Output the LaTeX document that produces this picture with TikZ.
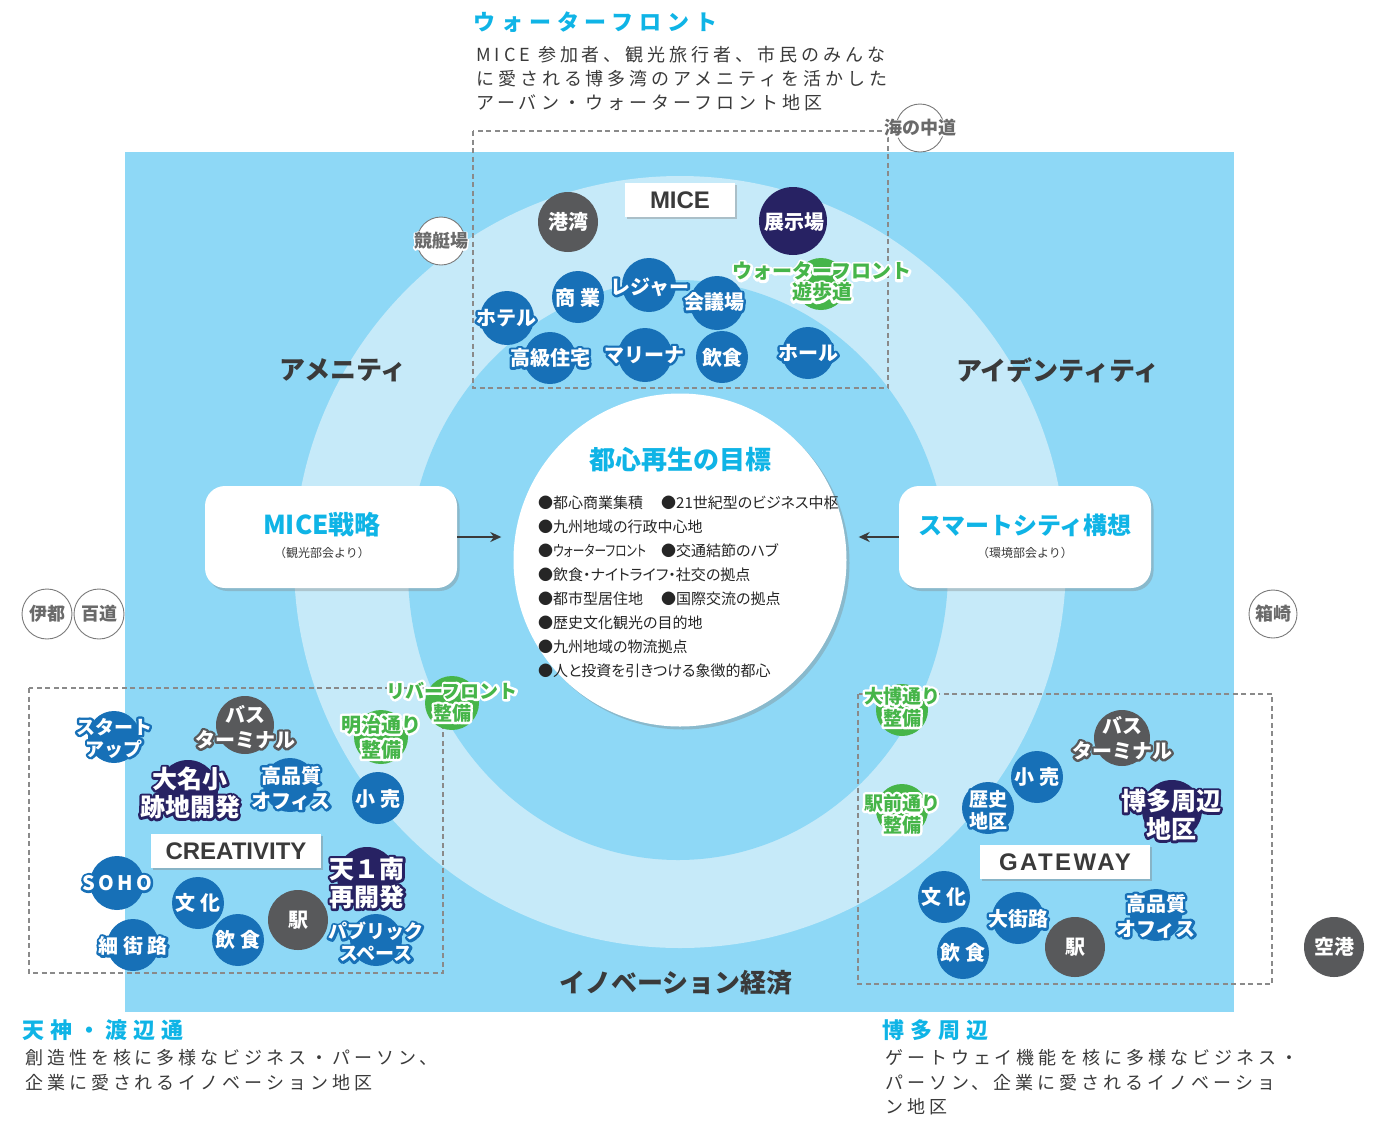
\documentclass[tikz,border=0pt]{standalone}
\usepackage{fontspec}
\setmainfont{Noto Sans CJK JP}
\newfontfamily\latf{Liberation Sans}
\newfontfamily\spf[LetterSpace=22]{Noto Sans CJK JP}
\newfontfamily\tspf[LetterSpace=27]{Noto Sans CJK JP}
\newfontfamily\paltf[RawFeature=+palt]{Noto Sans CJK JP}
\usetikzlibrary{shadows,arrows.meta}
\definecolor{bgblue}{HTML}{8ED8F6}
\definecolor{ringlight}{HTML}{C6EAF9}
\definecolor{cyanT}{HTML}{0FB4E6}
\definecolor{bubblue}{HTML}{1770B7}
\definecolor{bubnavy}{HTML}{272263}
\definecolor{bubgray}{HTML}{58595B}
\definecolor{bubgreen}{HTML}{46B549}
\definecolor{txtgray}{HTML}{3A3A3A}
\definecolor{dashgray}{HTML}{8A8A8A}
\definecolor{placegray}{HTML}{7A7A7A}
\definecolor{placetext}{HTML}{6A6A6A}
% outlined text: stroked copy underneath, filled copy on top
\newcommand\cc{white}
\newcommand\olw{4.8}
\newcommand\ct[1]{\leavevmode\rlap{\color{\cc}\special{pdf:literal direct 1 Tr \olw\space w 1 j}#1\special{pdf:literal direct 0 Tr}}#1}
\newcommand\fa{\fontsize{20}{25}\selectfont\bfseries}
\newcommand\fg{\fontsize{19}{22}\selectfont\bfseries}
\newcommand\fgg{\fontsize{20}{21}\selectfont\bfseries}
\newcommand\fn{\fontsize{25}{28}\selectfont\bfseries}
% name, (pos), radius, fill, font, textcolor, outlinecolor, (textpos), text
\newcommand\bubble[9]{%
  \node[circle,fill=#4,inner sep=0pt,minimum size=2*#3] (#1) at #2 {};
  \gdef\cc{#7}%
  \node[align=center,inner sep=0pt,text=#6,font=#5] (#1-t) at #8 {#9};
}
% name, (pos), radius, text
\newcommand\place[4]{%
  \node[circle,fill=white,draw=placegray,line width=0.9pt,inner sep=0pt,minimum size=2*#3] (#1) at #2 {};
  \gdef\cc{white}\gdef\olw{2.6}%
  \node[inner sep=0pt,text=placetext,font=\fontsize{18}{20}\selectfont\bfseries] (#1-t) at (#1) {\ct{#4}};
}
\tikzset{
  dashbox/.style={draw=dashgray,line width=2.2pt,dash pattern=on 5pt off 3.5pt},
  rbox/.style={fill=white,rounded corners=20pt,minimum width=252,minimum height=102,inner sep=0pt,
    drop shadow={shadow xshift=2.5pt,shadow yshift=-3pt,opacity=0.35}},
  lbl/.style={fill=white,inner sep=0pt,text=txtgray,font=\latf\bfseries\fontsize{24}{26}\selectfont,
    drop shadow={shadow xshift=2pt,shadow yshift=-2pt,opacity=0.4}},
  arr/.style={draw=txtgray,line width=1.8pt,-{Stealth[length=11pt,width=10pt]},shorten >=12pt},
  bigl/.style={text=txtgray,font=\fontsize{26}{28}\selectfont\bfseries,inner sep=0pt},
  listl/.style={anchor=west,inner sep=0pt,text=black!85,font=\paltf\fontsize{15}{17}\selectfont},
  head/.style={anchor=west,inner sep=0pt,text=cyanT,font=\tspf\bfseries\fontsize{22}{24}\selectfont},
  desc/.style={anchor=west,inner sep=0pt,text=txtgray,font=\spf\fontsize{18}{20}\selectfont},
}
\begin{document}
\begin{tikzpicture}[x=1pt,y=-1pt]
\useasboundingbox (0,0) rectangle (1393,1120);
% background
\fill[bgblue] (125,152) rectangle (1234,1012);
\fill[ringlight] (680,562) circle [radius=386];
\fill[bgblue] (678,570) ellipse [x radius=270, y radius=290];
% dashed zones
\draw[dashbox] (473,131) rectangle (888,388);
\draw[dashbox] (29,688) rectangle (443,973);
\draw[dashbox] (858,694) rectangle (1272,984);
% centre
\node[circle,fill=white,minimum size=333,inner sep=0pt,
  drop shadow={shadow xshift=3pt,shadow yshift=-3pt,opacity=0.35}] (goal) at (680,560) {};
\node[inner sep=0pt,text=cyanT,font=\fontsize{26}{28}\selectfont\bfseries] (goal-t) at (680,460) {都心再生の目標};
\node[listl] (g1a) at (538,503) {●都心商業集積};
\node[listl] (g1b) at (661,503) {●21世紀型のビジネス中枢};
\node[listl] (g2) at (538,527) {●九州地域の行政中心地};
\node[listl] (g3a) at (538,551) {●\scalebox{0.78}[1]{ウォーターフロント}};
\node[listl] (g3b) at (661,551) {●交通結節のハブ};
\node[listl] (g4) at (538,575) {●飲食・ナイトライフ・社交の拠点};
\node[listl] (g5a) at (538,599) {●都市型居住地};
\node[listl] (g5b) at (661,599) {●国際交流の拠点};
\node[listl] (g6) at (538,623) {●歴史文化観光の目的地};
\node[listl] (g7) at (538,647) {●九州地域の物流拠点};
\node[listl] (g8) at (538,671) {●人と投資を引きつける象徴的都心};
% side boxes
\node[rbox] (micebox) at (331,537) {};
\node[inner sep=0pt,text=cyanT,font=\fontsize{26}{28}\selectfont\bfseries] (micebox-t) at (322,525) {MICE戦略};
\node[inner sep=0pt,text=txtgray,font=\fontsize{12}{14}\selectfont] (micebox-s) at (322,553) {（観光部会より）};
\node[rbox] (smartbox) at (1025,537) {};
\node[inner sep=0pt,text=cyanT,font=\fontsize{24}{26}\selectfont\bfseries] (smartbox-t) at (1025,525) {スマートシティ構想};
\node[inner sep=0pt,text=txtgray,font=\fontsize{12}{14}\selectfont] (smartbox-s) at (1025,553) {（環境部会より）};
\draw[arr] (micebox.east) -- (micebox.east -| goal.west);
\draw[arr] (smartbox.west) -- (smartbox.west -| goal.east);
% ring labels
\node[bigl] (amenity) at (343,370) {アメニティ};
\node[bigl] (identity) at (1058,370) {アイデンティティ};
\node[bigl] (innov) at (676,983) {イノベーション経済};
% ===== top cluster
\node[lbl,minimum width=110,minimum height=34] (micelbl) at (680,200) {MICE};
\bubble{kowan}{(568,222)}{30}{bubgray}{\fa}{white}{bubgray}{(568,222)}{\ct{港湾}}
\bubble{tenji}{(793,221)}{34}{bubnavy}{\fa}{white}{bubnavy}{(794,222)}{\ct{展示場}}
\bubble{wfwalk}{(821,284)}{26}{bubgreen}{\fgg}{bubgreen}{white}{(822,282)}{\ct{ウォーターフロント}\\\ct{遊歩道}}
\bubble{shogyo}{(578,297)}{26}{bubblue}{\fa}{white}{bubblue}{(578,298)}{\ct{商 業}}
\bubble{leisure}{(649,285)}{27}{bubblue}{\fa}{white}{bubblue}{(650,287)}{\ct{レジャー}}
\bubble{kaigi}{(717,303)}{27}{bubblue}{\fa}{white}{bubblue}{(714,302)}{\ct{会議場}}
\bubble{hotel}{(507,318)}{27}{bubblue}{\fa}{white}{bubblue}{(506,318)}{\ct{ホテル}}
\bubble{jutaku}{(550,358)}{26}{bubblue}{\fa}{white}{bubblue}{(550,358)}{\ct{高級住宅}}
\bubble{marina}{(645,355)}{27}{bubblue}{\fa}{white}{bubblue}{(644,355)}{\ct{マリーナ}}
\bubble{inshokuA}{(722,357)}{26}{bubblue}{\fa}{white}{bubblue}{(722,358)}{\ct{飲食}}
\bubble{hall}{(808,353)}{26}{bubblue}{\fa}{white}{bubblue}{(808,353)}{\ct{ホール}}
% ===== bottom-left cluster
\node[lbl,minimum width=170,minimum height=34] (crelbl) at (236,851) {CREATIVITY};
\bubble{startup}{(114,737)}{26}{bubblue}{\fg}{white}{bubblue}{(114,738)}{\ct{スタート}\\\ct{アップ}}
\bubble{busA}{(245,725)}{29}{bubgray}{\fa}{white}{bubgray}{(245,727)}{\ct{バス}\\\ct{ターミナル}}
\bubble{daimyo}{(188,790)}{30}{bubnavy}{\fn}{white}{bubnavy}{(190,793)}{\ct{大名小}\\\ct{跡地開発}}
\bubble{officeA}{(290,785)}{27}{bubblue}{\fa}{white}{bubblue}{(291,788)}{\ct{高品質}\\\ct{オフィス}}
\bubble{meiji}{(381,737)}{27}{bubgreen}{\fa}{bubgreen}{white}{(381,737)}{\ct{明治通り}\\\ct{整備}}
\bubble{river}{(452,703)}{27}{bubgreen}{\fg}{bubgreen}{white}{(452,702)}{\ct{リバーフロント}\\\ct{整備}}
\bubble{kouriA}{(378,798)}{26}{bubblue}{\fa}{white}{bubblue}{(378,799)}{\ct{小 売}}
\bubble{soho}{(117,883)}{27}{bubblue}{\fa}{white}{bubblue}{(117,883)}{\ct{S\,O\,H\,O}}
\bubble{bunkaA}{(198,903)}{26}{bubblue}{\fa}{white}{bubblue}{(198,903)}{\ct{文 化}}
\bubble{tenichi}{(367,877)}{30}{bubnavy}{\fn}{white}{bubnavy}{(367,883)}{\ct{天１南}\\\ct{再開発}}
\bubble{ekiA}{(298,920)}{30}{bubgray}{\fa}{white}{bubgray}{(298,920)}{\ct{駅}}
\bubble{saigairo}{(133,945)}{26}{bubblue}{\fa}{white}{bubblue}{(133,946)}{\ct{細 街 路}}
\bubble{inshokuB}{(238,940)}{26}{bubblue}{\fa}{white}{bubblue}{(238,940)}{\ct{飲 食}}
\bubble{public}{(376,940)}{26}{bubblue}{\fg}{white}{bubblue}{(376,942)}{\ct{パブリック}\\\ct{スペース}}
% ===== bottom-right cluster
\node[lbl,minimum width=170,minimum height=34,font=\latf\bfseries\fontsize{24}{26}\selectfont\addfontfeature{LetterSpace=10}] (gatelbl) at (1065,862) {GATEWAY};
\bubble{daihaku}{(902,710)}{26}{bubgreen}{\fg}{bubgreen}{white}{(902,707)}{\ct{大博通り}\\\ct{整備}}
\bubble{busB}{(1122,738)}{28}{bubgray}{\fa}{white}{bubgray}{(1122,738)}{\ct{バス}\\\ct{ターミナル}}
\bubble{kouriB}{(1037,777)}{26}{bubblue}{\fa}{white}{bubblue}{(1037,777)}{\ct{小 売}}
\bubble{rekishi}{(988,808)}{26}{bubblue}{\fg}{white}{bubblue}{(988,810)}{\ct{歴史}\\\ct{地区}}
\bubble{ekimae}{(902,810)}{26}{bubgreen}{\fg}{bubgreen}{white}{(902,814)}{\ct{駅前通り}\\\ct{整備}}
\bubble{hakata}{(1172,810)}{30}{bubnavy}{\fn}{white}{bubnavy}{(1171,815)}{\ct{博多周辺}\\\ct{地区}}
\bubble{bunkaB}{(944,897)}{26}{bubblue}{\fa}{white}{bubblue}{(944,897)}{\ct{文 化}}
\bubble{daigairo}{(1018,918)}{26}{bubblue}{\fa}{white}{bubblue}{(1018,919)}{\ct{大街路}}
\bubble{officeB}{(1156,915)}{26}{bubblue}{\fa}{white}{bubblue}{(1156,916)}{\ct{高品質}\\\ct{オフィス}}
\bubble{inshokuC}{(963,953)}{26}{bubblue}{\fa}{white}{bubblue}{(963,953)}{\ct{飲 食}}
\bubble{ekiB}{(1075,947)}{30}{bubgray}{\fa}{white}{bubgray}{(1075,947)}{\ct{駅}}
\bubble{kuko}{(1334,947)}{30}{bubgray}{\fa}{white}{bubgray}{(1334,947)}{\ct{空港}}
% ===== places
\place{umi}{(920,128)}{24}{海の中道}
\place{kyotei}{(441,241)}{24}{競艇場}
\place{ito}{(47,614)}{25}{伊都}
\place{momo}{(99,614)}{25}{百道}
\place{hako}{(1273,614)}{24}{箱崎}
% ===== headers
\node[head] (h1) at (473,22) {ウォーターフロント};
\node[desc] (h1a) at (476,55) {MICE 参加者、観光旅行者、市民のみんな};
\node[desc] (h1b) at (476,79) {に愛される博多湾のアメニティを活かした};
\node[desc] (h1c) at (476,103) {アーバン・ウォーターフロント地区};
\node[head] (h2) at (22,1030) {天神・渡辺通};
\node[desc] (h2a) at (25,1058) {創造性を核に多様なビジネス・パーソン、};
\node[desc] (h2b) at (25,1083) {企業に愛されるイノベーション地区};
\node[head] (h3) at (882,1030) {博多周辺};
\node[desc] (h3a) at (885,1058) {ゲートウェイ機能を核に多様なビジネス・};
\node[desc] (h3b) at (885,1083) {パーソン、企業に愛されるイノベーショ};
\node[desc] (h3c) at (885,1107) {ン地区};
\end{tikzpicture}
\end{document}
